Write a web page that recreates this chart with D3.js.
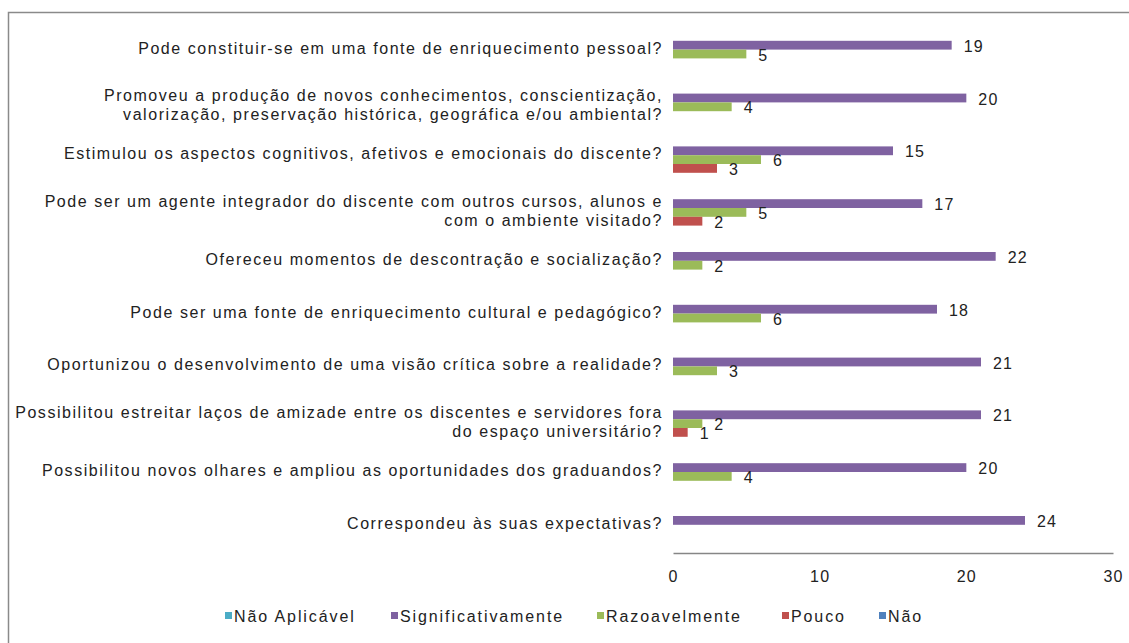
<!DOCTYPE html>
<html>
<head>
<meta charset="utf-8">
<title>avaliacao</title>
<script src="https://cdn.jsdelivr.net/npm/d3@7/dist/d3.min.js"></script>
<style>
body { margin: 0; background: #fff; }
text { font-family: "Liberation Sans", Arial, sans-serif; fill: #222; }
.lbl { font-size: 16px; letter-spacing: 1.55px; }
.val { font-size: 16px; letter-spacing: 1.2px; }
.tick text { font-size: 16px; letter-spacing: 1.2px; fill: #222; }
.leg { font-size: 16px; letter-spacing: 1.9px; }
</style>
</head>
<body>
<script>

// categories, top to bottom (multi-line ones split by "|")
var categories = [
  "Pode constituir-se em uma fonte de enriquecimento pessoal?",
  "Promoveu a produção de novos conhecimentos, conscientização,|valorização, preservação histórica, geográfica e/ou ambiental?",
  "Estimulou os aspectos cognitivos, afetivos e emocionais do discente?",
  "Pode ser um agente integrador do discente com outros cursos, alunos e|com o ambiente visitado?",
  "Ofereceu momentos de descontração e socialização?",
  "Pode ser uma fonte de enriquecimento cultural e pedagógico?",
  "Oportunizou o desenvolvimento de uma visão crítica sobre a realidade?",
  "Possibilitou estreitar laços de amizade entre os discentes e servidores fora|do espaço universitário?",
  "Possibilitou novos olhares e ampliou as oportunidades dos graduandos?",
  "Correspondeu às suas expectativas?"
];

var seriesNames = ["Não Aplicável", "Significativamente", "Razoavelmente", "Pouco", "Não"];
var seriesColors = ["#4bacc6", "#7f62a1", "#9bbb59", "#c0504d", "#4f81bd"];

var naoAplicavel      = [0, 0, 0, 0, 0, 0, 0, 0, 0, 0];
var significativamente = [19, 20, 15, 17, 22, 18, 21, 21, 20, 24];
var razoavelmente     = [5, 4, 6, 5, 2, 6, 3, 2, 4, 0];
var pouco             = [0, 0, 3, 2, 0, 0, 0, 1, 0, 0];
var nao               = [0, 0, 0, 0, 0, 0, 0, 0, 0, 0];

var xTicks = [0, 10, 20, 30];

var values = [naoAplicavel, significativamente, razoavelmente, pouco, nao];

var width = 1129, height = 643;

var svg = d3.select("body").append("svg")
    .attr("width", width)
    .attr("height", height);

// outer frame (right and bottom edges fall outside the picture)
svg.append("rect")
    .attr("x", 8.5).attr("y", 12.5)
    .attr("width", 1140).attr("height", 640)
    .attr("fill", "none")
    .attr("stroke", "#8a8a8a")
    .attr("stroke-width", 1.5);

var x = d3.scaleLinear().domain([0, 30]).range([673, 1113]);

var y0 = d3.scaleBand().domain(d3.range(categories.length))
    .range([25, 553]).padding(0);

var y1 = d3.scaleBand().domain(seriesNames).range([7, 51]).padding(0);

// bars
var rows = [];
categories.forEach(function(c, i) {
  seriesNames.forEach(function(s, j) {
    rows.push({cat: i, series: s, color: seriesColors[j], v: values[j][i]});
  });
});

svg.append("g").selectAll("rect")
    .data(rows.filter(function(d) { return d.v > 0; }))
  .enter().append("rect")
    .attr("x", x(0))
    .attr("y", function(d) { return y0(d.cat) + y1(d.series); })
    .attr("width", function(d) { return x(d.v) - x(0); })
    .attr("height", y1.bandwidth())
    .attr("fill", function(d) { return d.color; });

// value labels
svg.append("g").selectAll("text")
    .data(rows.filter(function(d) { return d.v > 0; }))
  .enter().append("text")
    .attr("class", "val")
    .attr("x", function(d) { return x(d.v) + 12; })
    .attr("y", function(d) { return y0(d.cat) + y1(d.series) + y1.bandwidth() / 2 + 1; })
    .attr("dy", "0.35em")
    .text(function(d) { return d.v; });

// category labels
var lbl = svg.append("g").selectAll("text")
    .data(categories)
  .enter().append("text")
    .attr("class", "lbl")
    .attr("text-anchor", "end")
    .attr("transform", function(d, i) {
      var cy = y0(i) + 23 + (d.indexOf("|") >= 0 ? 4.5 : 0);
      return "translate(663," + cy + ")";
    });

lbl.selectAll("tspan")
    .data(function(d) {
      var parts = d.split("|");
      return parts.map(function(p, k) { return {t: p, k: k, n: parts.length}; });
    })
  .enter().append("tspan")
    .attr("x", 0)
    .attr("y", function(d) { return (d.k - (d.n - 1) / 2) * 19; })
    .attr("dy", "0.35em")
    .text(function(d) { return d.t; });

// x axis
var axis = svg.append("g")
    .attr("transform", "translate(0,553)")
    .call(d3.axisBottom(x).tickValues(xTicks).tickSize(0).tickPadding(18));
axis.select(".domain").attr("stroke", "#868686").attr("stroke-width", 1.5);
axis.selectAll(".tick text").attr("font-family", null).attr("font-size", null);

// legend
var legendX = [225, 391, 597, 782, 879];
var leg = svg.append("g").selectAll("g")
    .data(seriesNames)
  .enter().append("g")
    .attr("transform", function(d, i) { return "translate(" + legendX[i] + ",616)"; });

leg.append("rect")
    .attr("x", 0).attr("y", -4)
    .attr("width", 7).attr("height", 7)
    .attr("fill", function(d, i) { return seriesColors[i]; });

leg.append("text")
    .attr("class", "leg")
    .attr("x", 9)
    .attr("dy", "0.35em")
    .text(function(d) { return d; });

</script>
</body>
</html>
